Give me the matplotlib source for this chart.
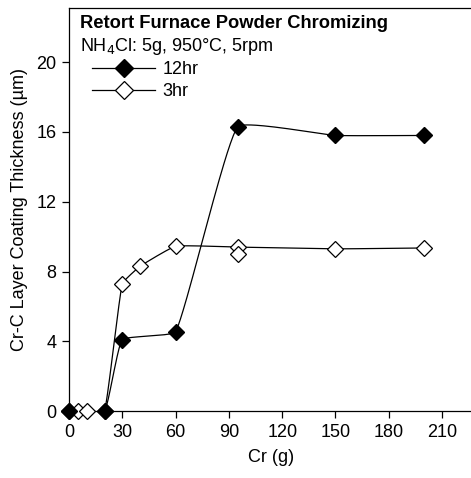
import numpy as np
import matplotlib.pyplot as plt

plt.rcParams['font.family'] = ['Liberation Sans', 'DejaVu Sans']

# data
cr_12hr = [0, 20, 30, 60, 95, 150, 200]
thick_12hr = [0.0, 0.0, 4.1, 4.55, 16.3, 15.8, 15.8]
cr_3hr = [0, 5, 10, 20, 30, 40, 60, 95, 150, 200]
thick_3hr = [0.0, 0.0, 0.0, 0.0, 7.3, 8.3, 9.45, 9.4, 9.3, 9.35]
# repeat measurement at 95 g (3hr), marker only
cr_3hr_rep = [95]
thick_3hr_rep = [9.0]

x_ticks = [0, 30, 60, 90, 120, 150, 180, 210]
y_ticks = [0, 4, 8, 12, 16, 20]
xlim = (0, 228)
ylim = (0, 23.1)


def cardinal(x, y, s=0.17, n=60):
    # cardinal spline in screen-like units, tangents scaled to segment lengths
    sx = np.asarray(x, float) / (xlim[1] - xlim[0]) * 400
    sy = np.asarray(y, float) / (ylim[1] - ylim[0]) * 403
    P = np.column_stack([sx, sy])
    P = np.vstack([2 * P[0] - P[1], P, 2 * P[-1] - P[-2]])
    d = np.linalg.norm(np.diff(P, axis=0), axis=1)
    t = np.linspace(0, 1, n)[:, None]
    h00 = 2 * t**3 - 3 * t**2 + 1
    h10 = t**3 - 2 * t**2 + t
    h01 = -2 * t**3 + 3 * t**2
    h11 = t**3 - t**2
    out = []
    for i in range(1, len(P) - 2):
        m0 = s * (P[i + 1] - P[i - 1]) * 2 * d[i] / (d[i - 1] + d[i])
        m1 = s * (P[i + 2] - P[i]) * 2 * d[i] / (d[i] + d[i + 1])
        out.append(h00 * P[i] + h10 * m0 + h01 * P[i + 1] + h11 * m1)
    c = np.vstack(out)
    return (c[:, 0] * (xlim[1] - xlim[0]) / 400,
            c[:, 1] * (ylim[1] - ylim[0]) / 403)


fig = plt.figure(figsize=(4.71, 4.78), dpi=100)
ax = fig.add_axes([0.1465, 0.14, 0.86, 0.843])

xs, ys = cardinal(cr_12hr, thick_12hr)
ax.plot(xs, ys, color='black', lw=0.9)
xs, ys = cardinal(cr_3hr, thick_3hr)
ax.plot(xs, ys, color='black', lw=0.9)

ax.plot(cr_3hr, thick_3hr, ls='none', marker='D', ms=7.8, mfc='white',
        mec='black', mew=0.9, clip_on=False, zorder=3)
ax.plot(cr_3hr_rep, thick_3hr_rep, ls='none', marker='D', ms=7.8, mfc='white',
        mec='black', mew=0.9, clip_on=False, zorder=3)
ax.plot(cr_12hr, thick_12hr, ls='none', marker='D', ms=7.8, mfc='black',
        mec='black', clip_on=False, zorder=4)

# legend handles
h1, = ax.plot([], [], color='black', lw=0.9, marker='D', ms=9.2, mfc='black', mec='black')
h2, = ax.plot([], [], color='black', lw=0.9, marker='D', ms=9.2, mfc='white',
              mec='black', mew=0.9)
ax.legend([h1, h2], ['12hr', '3hr'], loc='upper left', bbox_to_anchor=(0.057, 0.868),
          frameon=False, fontsize=13, handlelength=3.5, handletextpad=0.4,
          labelspacing=0.27, borderaxespad=0, borderpad=0)

ax.text(0.027, 0.983, 'Retort Furnace Powder Chromizing', transform=ax.transAxes,
        fontsize=13.2, fontweight='bold', va='top', ha='left')
ax.text(0.027, 0.93, 'NH$_4$Cl: 5g, 950°C, 5rpm', transform=ax.transAxes,
        fontsize=13, va='top', ha='left')

ax.set_xlim(*xlim)
ax.set_ylim(*ylim)
ax.set_xticks(x_ticks)
ax.set_yticks(y_ticks)
ax.tick_params(direction='out', length=5, width=0.9, labelsize=13, pad=4)
ax.spines['right'].set_visible(False)
for s in ['left', 'bottom', 'top']:
    ax.spines[s].set_linewidth(0.9)
ax.set_xlabel('Cr (g)', fontsize=13, labelpad=6)
ax.set_ylabel('Cr-C Layer Coating Thickness (µm)', fontsize=13, labelpad=6)

fig.savefig('out.png', dpi=100)
